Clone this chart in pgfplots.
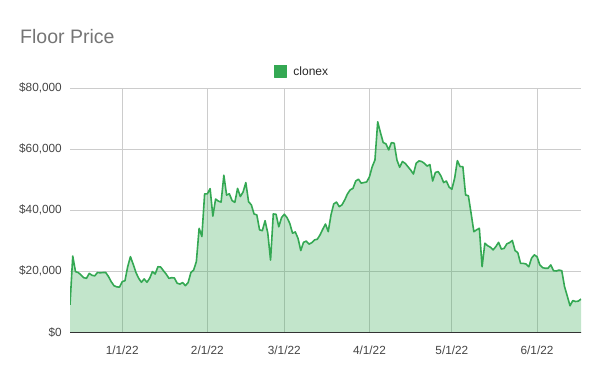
\documentclass[border=0pt]{standalone}
\usepackage{fontspec}
\setmainfont{Liberation Sans}
\usepackage{pgfplots}
\pgfplotsset{compat=1.18}
\usepackage{pgfplotstable}
\definecolor{gline}{HTML}{34A853}
\definecolor{gridc}{HTML}{CCCCCC}
\definecolor{labc}{HTML}{444444}
\definecolor{titc}{HTML}{757575}
\definecolor{axc}{HTML}{333333}
\pgfplotstableread{
day price
-19 9000
-18 25000
-17 19900
-16 19600
-15 18800
-14 17900
-13 17700
-12 19300
-11 18700
-10 18500
-9 19600
-8 19500
-7 19600
-6 19600
-5 18300
-4 16600
-3 15300
-2 14900
-1 14800
0 16600
1 16900
2 21500
3 24800
4 22300
5 19600
6 17700
7 16400
8 17500
9 16400
10 17700
11 19900
12 19100
13 21500
14 21400
15 20200
16 19100
17 17700
18 17900
19 17800
20 16100
21 15800
22 16300
23 15300
24 16300
25 19600
26 20400
27 23200
28 34100
29 31400
30 45400
31 45400
32 47100
33 38100
34 43700
35 43000
36 42700
37 51500
38 45000
39 45400
40 43200
41 42600
42 47200
43 44500
44 46000
45 49100
46 42800
47 41800
48 38800
49 38500
50 33600
51 33300
52 36600
53 32500
54 23700
55 38800
56 38700
57 34600
58 37600
59 38700
60 37600
61 35700
62 32500
63 32900
64 30800
65 26800
66 29500
67 29900
68 28900
69 29400
70 30300
71 30500
72 31900
73 33800
74 35500
75 33000
76 38500
77 42100
78 42700
79 41200
80 41800
81 43400
82 45400
83 46700
84 47200
85 49600
86 50200
87 48900
88 49100
89 49300
90 51000
91 54300
92 56500
93 69000
94 65500
95 62200
96 61800
97 59800
98 62200
99 62000
100 56500
101 54100
102 56000
103 55400
104 54300
105 53200
106 51900
107 55400
108 56200
109 56000
110 55400
111 54500
112 55000
113 49600
114 52400
115 52700
116 51300
117 49100
118 49600
119 47600
120 46900
121 50500
122 56300
123 54300
124 54300
125 45000
126 44800
127 39000
128 33000
129 33600
130 34100
131 21500
132 29200
133 28400
134 27900
135 27000
136 28100
137 29500
138 27300
139 27500
140 29000
141 29400
142 30100
143 26800
144 26100
145 22600
146 22600
147 22400
148 21500
149 24300
150 25400
151 24800
152 22100
153 21200
154 21000
155 21000
156 22100
157 20200
158 20100
159 20400
160 20200
161 15000
162 11900
163 8700
164 10400
165 10100
166 10200
167 10900
}\datatable
\begin{document}
\begin{tikzpicture}
\useasboundingbox (0,0) rectangle (600bp,371bp);
\begin{axis}[
  at={(70bp,38.7bp)}, anchor=south west,
  scale only axis, width=511bp, height=244bp,
  xmin=-19, xmax=167, ymin=0, ymax=80000,
  scaled y ticks=false,
  axis line style={draw=none},
  xtick={0,31,59,90,120,151},
  xticklabels={1/1/22,2/1/22,3/1/22,4/1/22,5/1/22,6/1/22},
  ytick={0,20000,40000,60000,80000},
  yticklabels={\$0,{\$20,000},{\$40,000},{\$60,000},{\$80,000}},
  major tick length=0pt, tick style={draw=none},
  grid=major, major grid style={draw=gridc, line width=1bp},
  xticklabel style={font=\fontsize{11.8bp}{14bp}\selectfont, text=labc, inner sep=0pt, anchor=base, yshift=-21.7bp},
  yticklabel style={font=\fontsize{11.8bp}{14bp}\selectfont, text=labc, inner sep=0pt, anchor=east, xshift=-8bp},
  legend style={at={(axis description cs:0.454,1.069)}, anchor=center, draw=none, fill=none,
    font=\fontsize{12bp}{14bp}\selectfont, text=black!85},
  legend image code/.code={\fill[gline] (0bp,-6bp) rectangle (12bp,6bp); \path (16bp,0bp);},
]
\addplot[draw=none, fill=gline, fill opacity=0.3, forget plot] table[x=day, y=price] {\datatable} \closedcycle;
\addplot[draw=gline, line width=1.6bp, line join=round] table[x=day, y=price] {\datatable};
\addlegendentry{clonex}
\draw[axc, line width=1bp] (rel axis cs:-0.008,0) -- (rel axis cs:1.006,0);
\end{axis}
\node[anchor=base west, font=\fontsize{19.5bp}{22bp}\selectfont, text=titc, inner sep=0pt] at (20bp,327bp) {Floor Price};
\end{tikzpicture}
\end{document}
